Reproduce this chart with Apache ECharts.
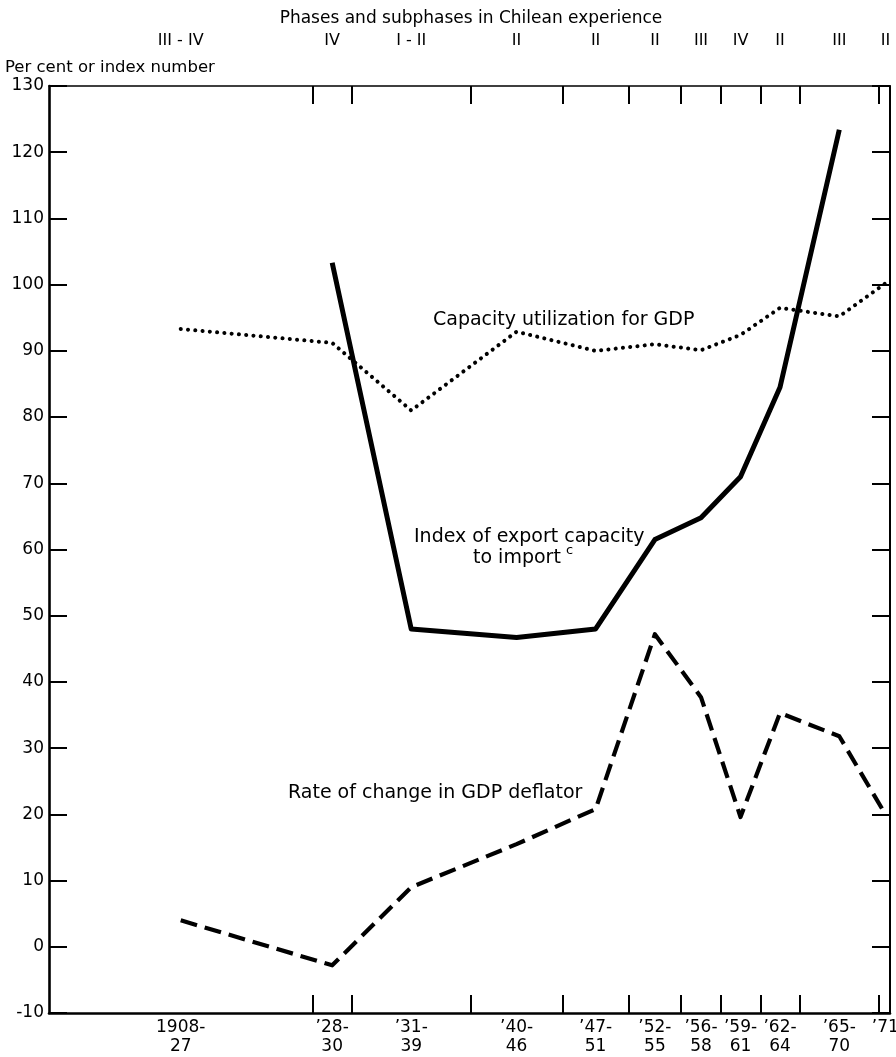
<!DOCTYPE html>
<html>
<head>
<meta charset="utf-8">
<script src="https://cdn.jsdelivr.net/npm/echarts@6/dist/echarts.min.js"></script>
<style>
  html, body { margin: 0; padding: 0; background: #fff; }
  #chart { width: 896px; height: 1057px; }
</style>
</head>
<body>
<div id="chart"></div>
<script>
// Periods (start year inclusive, end = start of next period)
const periodStart = [1908, 1928, 1931, 1940, 1947, 1952, 1956, 1959, 1962, 1965, 1971];
const periodEnd   = [1928, 1931, 1940, 1947, 1952, 1956, 1959, 1962, 1965, 1971, 1972];
const periodLabels = ['1908-\n27', '\u201928-\n30', '\u201931-\n39', '\u201940-\n46', '\u201947-\n51',
                      '\u201952-\n55', '\u201956-\n58', '\u201959-\n61', '\u201962-\n64', '\u201965-\n70', '\u201971'];
const phaseLabels = ['III - IV', 'IV', 'I - II', 'II', 'II', 'II', 'III', 'IV', 'II', 'III', 'II'];
const tickBoundaries = [1928, 1931, 1940, 1947, 1952, 1956, 1959, 1962, 1965, 1971];

// Series values (per cent or index number)
const capacityUtilization = [93.3, 91.2, 81.0, 92.9, 90.0, 91.0, 90.1, 92.4, 96.5, 95.2, 100.2];
const exportCapacityIndex = [null, 103.3, 48.0, 46.7, 48.0, 61.5, 64.8, 71.0, 84.5, 123.4, null];
const gdpDeflatorChange   = [4.0, -2.8, 9.0, 15.5, 20.8, 47.2, 37.7, 19.6, 35.3, 31.8, 20.0];

// Y axis
const yMin = -10, yMax = 130, yStep = 10;

const mids = periodStart.map((s, i) => (s + periodEnd[i]) / 2);
const pairs = arr => arr.map((v, i) => [mids[i], v]);
const labelFor = (labels) => (val) => {
  for (let i = 0; i < mids.length; i++) if (Math.abs(mids[i] - val) < 1e-6) return labels[i];
  return '';
};

const FONT = '"DejaVu Sans", sans-serif';
const BLACK = '#000';

const chart = echarts.init(document.getElementById('chart'), null, { renderer: 'canvas' });

const option = {
  animation: false,
  backgroundColor: '#fff',
  grid: { left: 49, right: 6, top: 86, bottom: 44, containLabel: false, outerBoundsMode: 'none' },
  xAxis: [
    {
      type: 'value', position: 'bottom', min: 1908, max: 1971.85,
      axisLine: { show: true, onZero: false, lineStyle: { color: BLACK, width: 2.6 } },
      axisTick: { show: true, inside: true, length: 18, customValues: tickBoundaries,
                  lineStyle: { color: BLACK, width: 2 } },
      axisLabel: { show: true, customValues: mids, formatter: labelFor(periodLabels),
                   color: BLACK, fontFamily: FONT, fontSize: 17, lineHeight: 19, margin: 5,
                   hideOverlap: false },
      splitLine: { show: false }
    },
    {
      type: 'value', position: 'top', min: 1908, max: 1971.85,
      axisLine: { show: true, onZero: false, lineStyle: { color: BLACK, width: 1.6 } },
      axisTick: { show: true, inside: true, length: 18, customValues: tickBoundaries,
                  lineStyle: { color: BLACK, width: 2 } },
      axisLabel: { show: true, customValues: mids, formatter: labelFor(phaseLabels),
                   color: BLACK, fontFamily: FONT, fontSize: 16, margin: 37, hideOverlap: false },
      splitLine: { show: false }
    }
  ],
  yAxis: [
    {
      type: 'value', position: 'left', min: yMin, max: yMax, interval: yStep,
      axisLine: { show: true, onZero: false, lineStyle: { color: BLACK, width: 2.6 } },
      axisTick: { show: true, inside: true, length: 18, lineStyle: { color: BLACK, width: 2 } },
      axisLabel: { show: true, color: BLACK, fontFamily: FONT, fontSize: 17, margin: 5 },
      splitLine: { show: false }
    },
    {
      type: 'value', position: 'right', min: yMin, max: yMax, interval: yStep,
      axisLine: { show: true, onZero: false, lineStyle: { color: BLACK, width: 2 } },
      axisTick: { show: true, inside: true, length: 18, lineStyle: { color: BLACK, width: 2 } },
      axisLabel: { show: false },
      splitLine: { show: false }
    }
  ],
  series: [
    {
      name: 'Capacity utilization for GDP', type: 'line', xAxisIndex: 0, yAxisIndex: 0,
      data: pairs(capacityUtilization), showSymbol: false, symbol: 'none',
      lineStyle: { color: BLACK, width: 4, type: [0.1, 7.2], cap: 'round', join: 'round' },
      z: 3
    },
    {
      name: 'Index of export capacity to import', type: 'line', xAxisIndex: 0, yAxisIndex: 0,
      data: pairs(exportCapacityIndex), showSymbol: false, symbol: 'none', connectNulls: false,
      lineStyle: { color: BLACK, width: 5, type: 'solid', join: 'round' },
      z: 4
    },
    {
      name: 'Rate of change in GDP deflator', type: 'line', xAxisIndex: 0, yAxisIndex: 0,
      data: pairs(gdpDeflatorChange), showSymbol: false, symbol: 'none',
      lineStyle: { color: BLACK, width: 4.2, type: [17, 8], join: 'round' },
      z: 3
    }
  ],
  graphic: [
    { type: 'text', x: 471, y: 19, silent: true,
      style: { text: 'Phases and subphases in Chilean experience', fill: BLACK,
               font: '17px ' + FONT, align: 'center', verticalAlign: 'middle' } },
    { type: 'text', x: 5, y: 68, silent: true,
      style: { text: 'Per cent or index number', fill: BLACK,
               font: '16.5px ' + FONT, align: 'left', verticalAlign: 'middle' } },
    { type: 'text', x: 433, y: 320, silent: true,
      style: { text: 'Capacity utilization for GDP', fill: BLACK,
               font: '19px ' + FONT, align: 'left', verticalAlign: 'middle' } },
    { type: 'text', x: 414, y: 537, silent: true,
      style: { text: 'Index of export capacity', fill: BLACK,
               font: '19px ' + FONT, align: 'left', verticalAlign: 'middle' } },
    { type: 'text', x: 473, y: 558, silent: true,
      style: { text: 'to import', fill: BLACK,
               font: '19px ' + FONT, align: 'left', verticalAlign: 'middle' } },
    { type: 'text', x: 566, y: 551, silent: true,
      style: { text: 'c', fill: BLACK,
               font: '13px ' + FONT, align: 'left', verticalAlign: 'middle' } },
    { type: 'text', x: 288, y: 793, silent: true,
      style: { text: 'Rate of change in GDP deflator', fill: BLACK,
               font: '19px ' + FONT, align: 'left', verticalAlign: 'middle' } }
  ]
};

chart.setOption(option);
</script>
</body>
</html>
